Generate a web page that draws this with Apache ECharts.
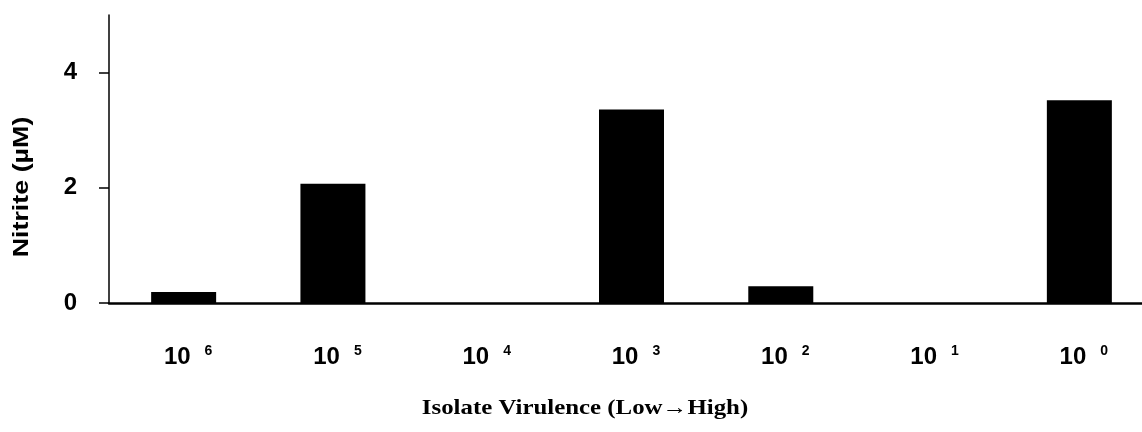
<!DOCTYPE html>
<html><head><meta charset="utf-8">
<script src="https://cdn.jsdelivr.net/npm/echarts@6/dist/echarts.min.js"></script>
<style>html,body{margin:0;padding:0;background:#fff}#c{width:1142px;height:432px}</style>
</head><body><div id="c"></div>
<script>
const categories = ['6', '5', '4', '3', '2', '1', '0'];
const nitrite = [0.19, 2.07, 0, 3.36, 0.29, 0, 3.52];
const yTicks = [0, 2, 4];

const chart = echarts.init(document.getElementById('c'), null, {renderer: 'canvas'});
chart.setOption({
  animation: false,
  grid: {left: 109, width: 1045, top: 15, bottom: 129, outerBoundsMode: 'none', containLabel: false},
  xAxis: {
    type: 'category', data: categories,
    axisLine: {lineStyle: {color: '#000', width: 2.5}},
    axisTick: {show: false},
    axisLabel: {
      margin: 41,
      padding: [0, 0, 0, 9],
      formatter: v => '{b|10}{s|' + v + '}',
      rich: {
        b: {fontFamily: 'Liberation Sans', fontWeight: 'bold', fontSize: 24, color: '#000', lineHeight: 26},
        s: {fontFamily: 'Liberation Sans', fontWeight: 'bold', fontSize: 14, color: '#000', padding: [0, 0, 12, 14], lineHeight: 26}
      }
    }
  },
  yAxis: {
    type: 'value', min: 0, max: 5, interval: 1,
    axisLine: {show: true, lineStyle: {color: '#000', width: 1.5}},
    axisTick: {show: true, inside: false, length: 10, lineStyle: {color: '#000', width: 1.5}, customValues: yTicks},
    axisLabel: {customValues: yTicks, margin: 32, padding: [8, 0, 0, 0], fontFamily: 'Liberation Sans', fontWeight: 'bold', fontSize: 24, color: '#000'},
    splitLine: {show: false}
  },
  series: [{
    type: 'bar', data: nitrite, barWidth: 65,
    itemStyle: {color: '#000'}
  }],
  graphic: [
    {type: 'text', x: 22, y: 187, rotation: Math.PI / 2, scaleX: 1.22,
     style: {text: 'Nitrite (µM)', fontFamily: 'Liberation Sans', fontWeight: 'bold', fontSize: 22, fill: '#000', align: 'center', verticalAlign: 'middle'}},
    {type: 'text', x: 585, y: 408, scaleX: 1.13,
     style: {text: 'Isolate Virulence (Low→High)', fontFamily: 'Liberation Serif', fontWeight: 'bold', fontSize: 22, fill: '#000', align: 'center', verticalAlign: 'middle'}}
  ]
});
</script></body></html>
